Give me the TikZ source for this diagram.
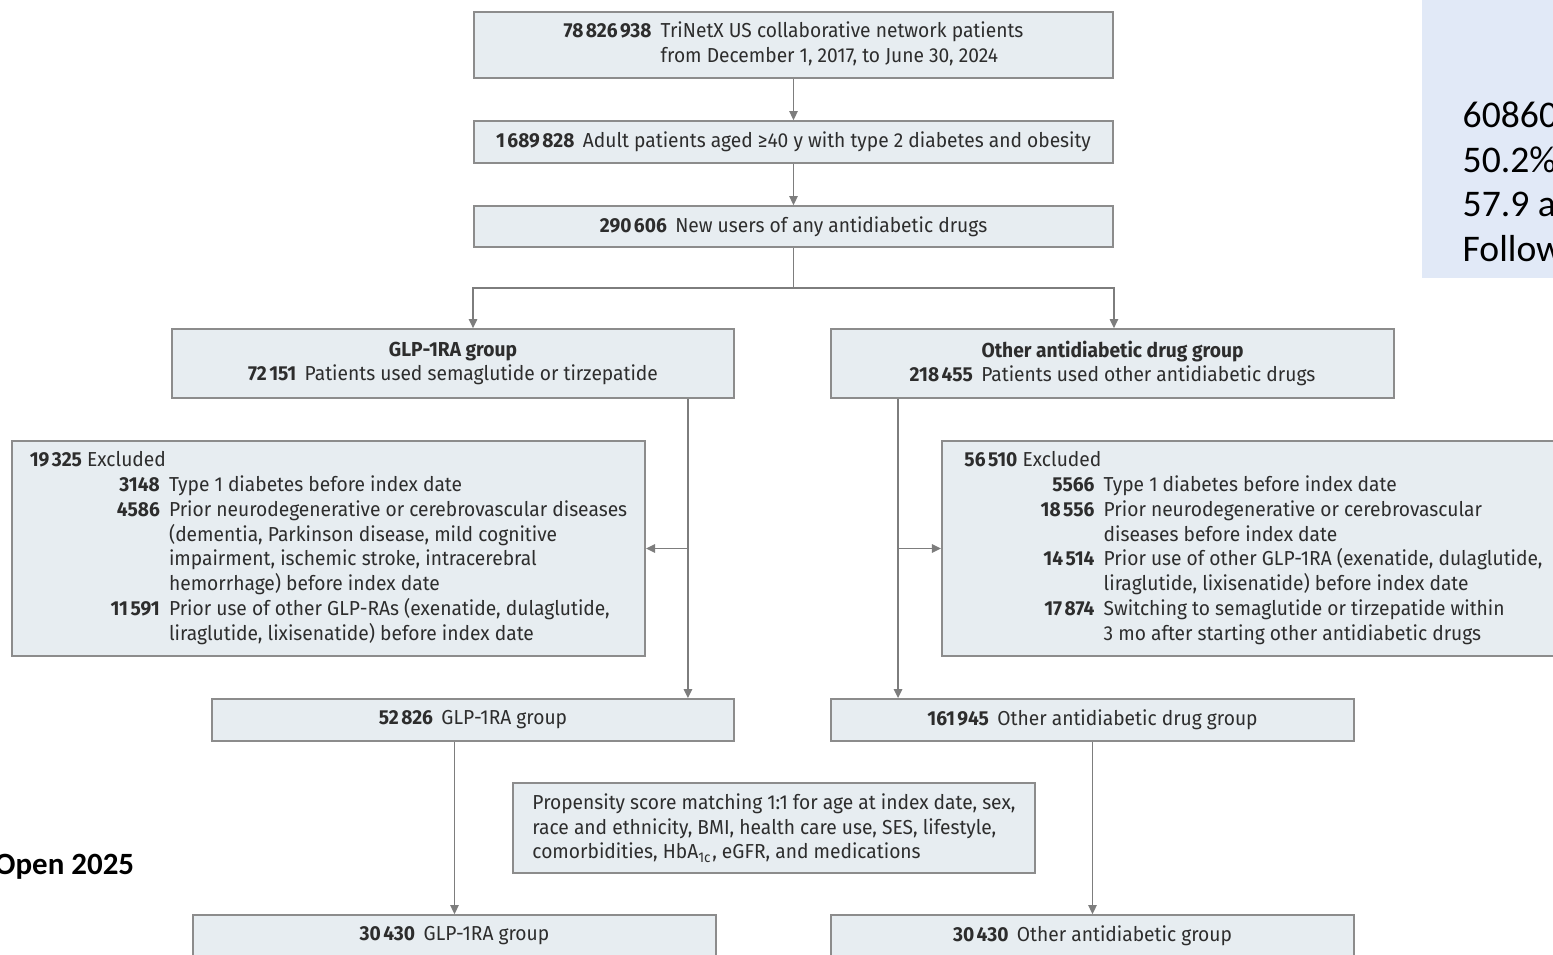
\documentclass[tikz,border=0pt]{standalone}
\usepackage{fontspec}
\usepackage{tikz}
\usetikzlibrary{arrows.meta,calc}
\newfontfamily\flowfont{Fira Sans}[FakeStretch=0.95]
\newfontfamily\notefont{Carlito}
\definecolor{boxfill}{RGB}{231,237,241}
\definecolor{boxline}{RGB}{140,140,140}
\definecolor{flowline}{RGB}{125,125,125}
\definecolor{notefill}{RGB}{225,233,247}
\definecolor{flowtext}{RGB}{45,45,45}
\newcommand{\cnt}[1]{\textbf{#1}}
\newcommand{\lead}[1]{\textbf{#1}\hspace{2.4pt}\ignorespaces}
\newcommand{\dgap}{\kern0.7pt}
\newcommand{\flowsize}{\fontsize{5.75}{7.06}\selectfont}

\begin{document}
\begin{tikzpicture}[x=0.01cm, y=-0.01cm,
  flowbox/.style={draw=boxline, line width=0.45pt, fill=boxfill, inner sep=0pt,
    font=\flowfont\flowsize, text=flowtext},
  flowarrow/.style={draw=flowline, line width=0.45pt, -{Triangle[length=2.6pt,width=2.4pt]}},
  flowlink/.style={draw=flowline, line width=0.45pt}]
\useasboundingbox (0,0) rectangle (1553,955);
\clip (0,0) rectangle (1553,955);

% cohort note, cut off at the right edge
\fill[notefill] (1422,0) rectangle (1560,278);
\node[font=\notefont\fontsize{10.7}{12.7}\selectfont, anchor=north west, align=left, inner sep=0pt] (cohort) at (1462,101) {60860\\50.2\%\\57.9 a\\Follow};
\node[font=\notefont\bfseries\fontsize{8.8}{11}\selectfont, anchor=base west, inner sep=0pt] (journal) at (-6,875) {Open 2025};

\node[flowbox, minimum width=6.39cm, minimum height=0.66cm] (source) at (793.5,45) {\begin{tabular}{@{}r@{\hspace{2.6pt}}l@{}}
\cnt{78\dgap826\dgap938} & TriNetX US collaborative network patients\\
 & from December 1, 2017, to June 30, 2024
\end{tabular}};
\node[flowbox, minimum width=6.39cm, minimum height=0.42cm] (adults) at (793.5,142) {\lead{1\dgap689\dgap828}Adult patients aged ≥40 y with type 2 diabetes and obesity};
\node[flowbox, minimum width=6.39cm, minimum height=0.41cm] (newusers) at (793.5,226.5) {\lead{290\dgap606}New users of any antidiabetic drugs};

\node[flowbox, minimum width=5.62cm, minimum height=0.69cm, align=center] (glp) at (453,363.5) {\textbf{GLP-1RA group}\\\lead{72\dgap151}Patients used semaglutide or tirzepatide};
\node[flowbox, minimum width=5.63cm, minimum height=0.69cm, align=center] (other) at (1112.5,363.5) {\textbf{Other antidiabetic drug group}\\\lead{218\dgap455}Patients used other antidiabetic drugs};

\node[flowbox, minimum width=6.33cm, minimum height=2.15cm] (exclglp) at (328.5,548.5) {\begin{tabular}{@{}r@{\hspace{2.6pt}}l@{}}
\multicolumn{2}{@{}l@{}}{\cnt{19\dgap325} Excluded}\\
\makebox[1.3cm][r]{\cnt{3148}} & Type 1 diabetes before index date\\
\cnt{4586} & Prior neurodegenerative or cerebrovascular diseases\\
 & (dementia, Parkinson disease, mild cognitive\\
 & impairment, ischemic stroke, intracerebral\\
 & hemorrhage) before index date\\
\cnt{11\dgap591} & Prior use of other GLP-RAs (exenatide, dulaglutide,\\
 & liraglutide, lixisenatide) before index date
\end{tabular}};
\node[flowbox, minimum width=6.23cm, minimum height=2.15cm] (exclother) at (1253.5,548.5) {\begin{tabular}{@{}r@{\hspace{2.6pt}}l@{}}
\multicolumn{2}{@{}l@{}}{\cnt{56\dgap510} Excluded}\\
\makebox[1.3cm][r]{\cnt{5566}} & Type 1 diabetes before index date\\
\cnt{18\dgap556} & Prior neurodegenerative or cerebrovascular\\
 & diseases before index date\\
\cnt{14\dgap514} & Prior use of other GLP-1RA (exenatide, dulaglutide,\\
 & liraglutide, lixisenatide) before index date\\
\cnt{17\dgap874} & Switching to semaglutide or tirzepatide within\\
 & 3 mo after starting other antidiabetic drugs
\end{tabular}};

\node[flowbox, minimum width=5.22cm, minimum height=0.42cm] (glpkept) at (473,720) {\lead{52\dgap826}GLP-1RA group};
\node[flowbox, minimum width=5.23cm, minimum height=0.42cm] (otherkept) at (1092.5,720) {\lead{161\dgap945}Other antidiabetic drug group};

\node[flowbox, minimum width=5.22cm, minimum height=0.90cm, align=left] (psm) at (774,828) {Propensity score matching 1:1 for age at index date, sex,\\race and ethnicity, BMI, health care use, SES, lifestyle,\\comorbidities, HbA\textsubscript{1c}, eGFR, and medications};

\node[flowbox, minimum width=5.23cm, minimum height=0.42cm] (glpmatched) at (454.5,936) {\lead{30\dgap430}GLP-1RA group};
\node[flowbox, minimum width=5.23cm, minimum height=0.42cm] (othermatched) at (1092.5,936) {\lead{30\dgap430}Other antidiabetic group};

% connectors
\draw[flowarrow] (source) -- (adults);
\draw[flowarrow] (adults) -- (newusers);
\coordinate (split) at ($(newusers.south)+(0,40)$);
\draw[flowlink] (newusers.south) -- (split);
\draw[flowarrow] (split) -| (newusers.west |- glp.north);
\draw[flowarrow] (split) -| (newusers.east |- other.north);

\coordinate (glpdrop) at ($(glp.south east)+(-47,0)$);
\draw[flowarrow] (glpdrop) -- (glpdrop |- glpkept.north);
\draw[flowarrow] (glpdrop |- exclglp.east) -- (exclglp.east);
\coordinate (otherdrop) at ($(other.south west)+(68,0)$);
\draw[flowarrow] (otherdrop) -- (otherdrop |- otherkept.north);
\draw[flowarrow] (otherdrop |- exclother.west) -- (exclother.west);

\draw[flowarrow] (glpkept.south -| glpmatched.north) -- (glpmatched.north);
\draw[flowarrow] (otherkept) -- (othermatched);
\end{tikzpicture}
\end{document}
